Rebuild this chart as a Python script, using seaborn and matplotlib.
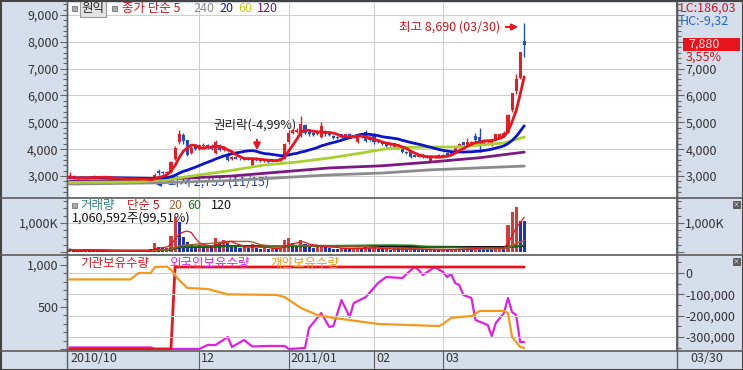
import pandas as pd
import matplotlib
matplotlib.use("Agg")
import matplotlib.pyplot as plt
import seaborn as sns
from matplotlib.patches import Rectangle
from matplotlib.lines import Line2D
from matplotlib.ticker import FixedLocator, MultipleLocator, FuncFormatter

# daily candles, trading day 0 = 2010/10/18 ... 112 = 2011/03/30
opens = [2900, 2990, 2930, 2900, 2950, 2920, 2960, 2980, 2930, 2960,
         2930, 2900, 2880, 2920, 2890, 2870, 2910, 2880, 2860, 2890,
         2850, 2820, 3200, 3150, 3100, 3150, 3650, 4250, 4540, 4330,
         3850, 4100, 4000, 4100, 4150, 4100, 3850, 4150, 3950, 3800,
         3620, 3700, 3650, 3620, 3680, 3400, 3650, 3600, 3560, 3580,
         3530, 3600, 3580, 3650, 4250, 4600, 4650, 4500, 4900, 4650,
         4600, 4550, 4450, 4650, 4650, 4500, 4450, 4550, 4450, 4580,
         4450, 4250, 4550, 4650, 4450, 4550, 4350, 4300, 4250, 4150,
         4220, 4050, 4100, 3900, 3950, 3800, 3720, 3800, 3750, 3550,
         3750, 3800, 3750, 3850, 3780, 3920, 4050, 4250, 4150, 4200,
         4500, 4450, 4200, 4250, 4150, 4350, 4400, 4500, 4650, 5450,
         6150, 6650, 8020]
closes = [2960, 2920, 2900, 2950, 2920, 2960, 2990, 2930, 2960, 2930,
          2900, 2880, 2920, 2890, 2870, 2910, 2880, 2860, 2900, 2850,
          2800, 3050, 3120, 3100, 3150, 3520, 4050, 4560, 4300, 3800,
          4050, 4000, 4150, 4150, 4050, 4000, 4250, 3950, 4050, 3600,
          3700, 3650, 3620, 3680, 3600, 3680, 3600, 3550, 3600, 3520,
          3620, 3580, 3660, 4200, 4600, 4700, 4700, 4950, 4600, 4550,
          4530, 4620, 4880, 4550, 4520, 4420, 4400, 4450, 4550, 4450,
          4500, 4500, 4450, 4320, 4350, 4250, 4250, 4180, 4100, 4220,
          4050, 4150, 3880, 3850, 3700, 3720, 3800, 3700, 3680, 3700,
          3680, 3720, 3800, 3780, 3900, 4050, 4200, 4150, 4250, 4260,
          4350, 4300, 4350, 4300, 4300, 4550, 4550, 4620, 5290, 6080,
          6620, 7610, 7880]
highs = [3150, 3020, 2950, 2980, 2970, 2990, 3050, 2990, 2980, 2970,
         2940, 2920, 2940, 2930, 2910, 2930, 2920, 2900, 2920, 2900,
         2860, 3100, 3250, 3200, 3180, 3560, 4100, 4710, 4620, 4350,
         4120, 4150, 4200, 4220, 4180, 4200, 4350, 4180, 4100, 3900,
         3730, 3720, 3680, 3700, 3700, 3700, 3700, 3630, 3630, 3620,
         3650, 3640, 3690, 4230, 4700, 4750, 4780, 5230, 4950, 4700,
         4640, 4660, 5000, 4700, 4680, 4530, 4480, 4580, 4580, 4600,
         4540, 4530, 4580, 4700, 4480, 4600, 4380, 4320, 4280, 4250,
         4240, 4200, 4120, 3930, 3970, 3820, 3830, 3820, 3770, 3720,
         3770, 3820, 3830, 3870, 3930, 4080, 4230, 4270, 4400, 4300,
         4600, 4800, 4380, 4330, 4320, 4580, 4620, 4660, 5300, 6080,
         6800, 7610, 8690]
lows = [2880, 2890, 2880, 2890, 2900, 2910, 2940, 2910, 2920, 2910,
        2880, 2860, 2870, 2870, 2850, 2860, 2860, 2840, 2850, 2820,
        2755, 2800, 3050, 3060, 3080, 3120, 3600, 4200, 4200, 3750,
        3820, 3950, 3980, 4080, 4000, 3950, 3830, 3920, 3930, 3550,
        3600, 3620, 3590, 3600, 3580, 3350, 3560, 3520, 3540, 3480,
        3510, 3550, 3560, 3620, 4200, 4550, 4620, 4450, 4550, 4500,
        4500, 4520, 4420, 4500, 4480, 4380, 4370, 4420, 4430, 4420,
        4430, 4230, 4420, 4280, 4320, 4200, 4220, 4150, 4080, 4120,
        4020, 4000, 3860, 3820, 3680, 3700, 3700, 3680, 3660, 3520,
        3660, 3700, 3730, 3760, 3770, 3900, 4030, 4120, 4130, 4180,
        4250, 3900, 4180, 4230, 4130, 4330, 4380, 4480, 4620, 5400,
        6050, 6600, 7435]
volume_k = [80, 40, 30, 60, 90, 50, 40, 30, 45, 35,
            30, 25, 40, 30, 35, 45, 30, 40, 55, 45,
            90, 320, 180, 130, 150, 540, 1210, 1030, 500, 330,
            290, 220, 250, 180, 200, 160, 480, 360, 420, 300,
            200, 170, 150, 180, 140, 260, 150, 120, 140, 110,
            130, 100, 150, 400, 480, 300, 220, 420, 260, 180,
            150, 170, 250, 160, 140, 120, 110, 130, 120, 100,
            110, 150, 120, 160, 130, 140, 100, 90, 110, 80,
            100, 90, 110, 80, 120, 90, 80, 70, 60, 90,
            70, 60, 80, 70, 90, 100, 120, 80, 110, 90,
            210, 190, 150, 120, 100, 160, 180, 140, 930, 1390,
            1540, 1070, 1061]

# long moving averages
ma60_day = [0, 16, 24, 32, 40, 48, 56, 64, 72, 77, 81, 89, 95, 101, 107, 112]
ma60_val = [2760, 2780, 2860, 3040, 3210, 3410, 3520, 3670, 3860, 3990, 4060, 4080, 4080, 4150, 4230, 4450]
ma120_day = [0, 20, 40, 64, 77, 89, 101, 112]
ma120_val = [2800, 2860, 3000, 3300, 3380, 3520, 3680, 3890]
ma240_day = [0, 20, 40, 64, 77, 89, 112]
ma240_val = [2700, 2740, 2830, 3040, 3110, 3230, 3370]

# holdings panel
inst_day = [0, 25, 26, 112]
inst_val = [0, 0, 976, 976]
foreign_day = [0, 20, 21, 32, 34, 36, 39, 40, 43, 45, 49, 53, 54, 58, 59, 62, 64, 65, 67, 69,
               70, 73, 76, 78, 82, 83, 85, 86, 87, 90, 92, 93, 94, 95, 96, 97, 99, 100, 103, 104,
               105, 107, 108, 109, 110, 111, 112]
foreign_val = [18, 18, 0, 0, 48, 48, 143, 24, 107, 30, 36, 36, 0, 12, 250, 428, 262, 274, 583, 381,
               547, 619, 785, 857, 845, 893, 976, 940, 881, 976, 916, 857, 893, 785, 762, 643, 607, 345, 286, 155,
               309, 428, 607, 440, 405, 83, 83]
indiv_day = [0, 15, 16, 17, 20, 21, 24, 25, 27, 29, 34, 39, 51, 53, 57, 61, 65, 69, 76, 91,
             92, 94, 96, 99, 101, 107, 108, 109, 111, 112]
indiv_val_k = [-30, -30, -15, 0, 0, 28, 30, 15, -33, -70, -75, -100, -103, -113, -164, -197, -211, -221, -239, -249,
               -239, -211, -207, -202, -178, -178, -188, -300, -347, -352]

month_days = [32, 54, 75, 92]
month_labels = ['12', '2011/01', '02', '03']
price_ticks = [3000, 4000, 5000, 6000, 7000, 8000, 9000]

W, H = 743, 370
BG = '#d5dfeb'
LINE = '#5c5c5c'
GRID = '#cfcfcf'
UP = '#e41e26'
DOWN = '#1f4fc8'
X0, DX = 69.5, 4.06
XLIM = ((67 - X0) / DX, (677 - X0) / DX)

sns.set_theme(style="white")
plt.rcParams['font.family'] = ['Noto Sans CJK KR', 'DejaVu Sans']
plt.rcParams['axes.unicode_minus'] = False


def box(x0, y0, x1, y1):
    return [x0 / W, 1 - y1 / H, (x1 - x0) / W, (y1 - y0) / H]


def px(x):
    return X0 + DX * x


def ftext(ax, x, y, s, color, size=9, **kw):
    kw.setdefault('zorder', 1)
    return ax.text(x / W, 1 - y / H, s, color=color, fontsize=size, ha=kw.pop('ha', 'left'),
                   va='center', transform=fig.transFigure, **kw)


def style_panel(ax, ylim):
    ax.set_facecolor('white')
    ax.set_xlim(*XLIM)
    ax.set_ylim(*ylim)
    ax.set_xticks([])
    ax.set_xlabel('')
    ax.set_ylabel('')
    for s in ['top', 'bottom']:
        ax.spines[s].set_visible(False)
    for s in ['left', 'right']:
        ax.spines[s].set_color(LINE)
        ax.spines[s].set_linewidth(1)
    ax.tick_params(axis='y', which='both', direction='out', left=True, colors='#666666',
                   labelcolor='#333333', labelsize=9, pad=1, width=0.8)
    ax.tick_params(axis='y', which='major', length=5)
    ax.tick_params(axis='y', which='minor', length=3)
    for d in month_days:
        ax.axvline(d, color=GRID, lw=0.8, zorder=0)


def right_twin(ax):
    r = ax.twinx()
    r.set_ylim(ax.get_ylim())
    r.set_xlim(*XLIM)
    for s in ['top', 'bottom', 'left']:
        r.spines[s].set_visible(False)
    r.spines['right'].set_color(LINE)
    r.tick_params(axis='y', which='both', direction='out', right=True, left=False, colors='#666666',
                  labelcolor='#333333', labelsize=9, pad=1, width=0.8)
    r.tick_params(axis='y', which='major', length=5)
    r.tick_params(axis='y', which='minor', length=3)
    r.set_ylabel('')
    return r


fig = plt.figure(figsize=(W / 100, H / 100), dpi=100, facecolor=BG)

df = pd.DataFrame({'open': opens, 'close': closes, 'high': highs, 'low': lows, 'vol': volume_k})
df['day'] = range(len(df))
df['ma5'] = df['close'].rolling(5, min_periods=1).mean()
df['ma20'] = df['close'].rolling(20, min_periods=1).mean()
up = df['close'] >= df['open']
candle_colors = [UP if u else DOWN for u in up]
vol_up = df['vol'].diff().fillna(1) >= 0
vol_colors = ['#d23c3c' if u else '#2233bb' for u in vol_up]
for n, c in [(5, 'v5'), (20, 'v20'), (60, 'v60'), (120, 'v120')]:
    df[c] = df['vol'].rolling(n, min_periods=1).mean()

# ---- price panel ----
ax1 = fig.add_axes(box(67, 3, 677, 197))
style_panel(ax1, (2217, 9447))
ax1.yaxis.set_major_locator(FixedLocator(price_ticks))
ax1.yaxis.set_minor_locator(MultipleLocator(200))
ax1.yaxis.set_major_formatter(FuncFormatter(lambda v, p: f'{v:,.0f}'))
for v in price_ticks:
    ax1.axhline(v, color=GRID, lw=0.8, zorder=0)

ax1.vlines(df['day'], df['low'], df['high'], colors=candle_colors, lw=1, zorder=3)
body_h = (df['close'] - df['open']).abs().clip(lower=15)
ax1.bar(df['day'], body_h, bottom=df[['open', 'close']].min(axis=1), width=0.75,
        color=candle_colors, linewidth=0, zorder=3)

sns.lineplot(x=ma240_day, y=ma240_val, ax=ax1, color='#8c8c8c', lw=2, zorder=4)
sns.lineplot(x=ma120_day, y=ma120_val, ax=ax1, color='#7d1a82', lw=2, zorder=4)
sns.lineplot(x=ma60_day, y=ma60_val, ax=ax1, color='#a8d030', lw=2, zorder=4)
sns.lineplot(data=df, x='day', y='ma20', ax=ax1, color='#0a14c8', lw=2, zorder=5)
sns.lineplot(data=df, x='day', y='ma5', ax=ax1, color='#e8141e', lw=2, zorder=5)
ax1.set_xlabel('')
ax1.set_ylabel('')

ax1r = right_twin(ax1)
ax1r.yaxis.set_major_locator(FixedLocator(price_ticks))
ax1r.yaxis.set_minor_locator(MultipleLocator(200))
ax1r.yaxis.set_major_formatter(FuncFormatter(lambda v, p: f'{v:,.0f}' if v <= 7000 else ''))

# legend line of price panel
fig.add_artist(Rectangle((72 / W, 1 - 11 / H), 5 / W, 5 / H, transform=fig.transFigure,
                         facecolor='#a8a8a8', edgecolor='#777777', lw=0.6))
ftext(ax1, 81, 8.5, '원익', '#222222',
      bbox=dict(boxstyle='square,pad=0.12', facecolor='#e4e4e4', edgecolor='#9a9a9a', lw=0.8))
fig.add_artist(Rectangle((112 / W, 1 - 11 / H), 5 / W, 5 / H, transform=fig.transFigure,
                         facecolor='#a8a8a8', edgecolor='#777777', lw=0.6))
ftext(ax1, 122, 8.5, '종가 단순 5', '#d0141e')
ftext(ax1, 193, 8.5, '240', '#8a8a8a')
ftext(ax1, 219, 8.5, '20', '#1a1aa0')
ftext(ax1, 238, 8.5, '60', '#c8c814')
ftext(ax1, 257, 8.5, '120', '#6a1a78')

# annotations
ftext(ax1, 500, 27, '최고 8,690 (03/30)', '#d0141e', ha='right')
ax1.annotate('', xy=(521, H - 27), xytext=(503, H - 27), xycoords='figure pixels',
             arrowprops=dict(arrowstyle='-|>', color='#e8141e', lw=1.5, mutation_scale=9))
ftext(ax1, 168, 182, '최저 2,755 (11/15)', '#1a3cc8')
ax1.annotate('', xy=(151, H - 183), xytext=(167, H - 183), xycoords='figure pixels',
             arrowprops=dict(arrowstyle='-|>', color='#1a3cc8', lw=1.5, mutation_scale=9))
ftext(ax1, 213, 125, '권리락(-4,99%)', '#222222')
ax1.annotate('', xy=(257, H - 153), xytext=(257, H - 137), xycoords='figure pixels',
             arrowprops=dict(arrowstyle='-|>', color='#e8141e', lw=1.5, mutation_scale=10))

# ---- volume panel ----
ax2 = fig.add_axes(box(67, 198, 677, 254))
style_panel(ax2, (-69, 1862))
ax2.yaxis.set_major_locator(FixedLocator([0, 1000]))
ax2.yaxis.set_minor_locator(MultipleLocator(250))
ax2.yaxis.set_major_formatter(FuncFormatter(lambda v, p: '1,000K' if v == 1000 else ''))
ax2.axhline(1000, color=GRID, lw=0.8, zorder=0)
ax2.bar(df['day'], df['vol'], width=0.75, color=vol_colors, linewidth=0, zorder=3)
sns.lineplot(data=df, x='day', y='v120', ax=ax2, color='#111111', lw=1.6, zorder=4)
sns.lineplot(data=df, x='day', y='v60', ax=ax2, color='#1a7a1a', lw=1.2, zorder=4)
sns.lineplot(data=df, x='day', y='v20', ax=ax2, color='#a8602a', lw=1, zorder=4)
sns.lineplot(data=df, x='day', y='v5', ax=ax2, color='#e8141e', lw=0.9, zorder=4)
ax2.set_xlabel('')
ax2.set_ylabel('')
ax2r = right_twin(ax2)
ax2r.yaxis.set_major_locator(FixedLocator([0, 1000]))
ax2r.yaxis.set_minor_locator(MultipleLocator(250))
ax2r.yaxis.set_major_formatter(FuncFormatter(lambda v, p: '1,000K' if v == 1000 else ''))

fig.add_artist(Rectangle((72 / W, 1 - 208 / H), 5 / W, 5 / H, transform=fig.transFigure,
                         facecolor='#a8a8a8', edgecolor='#777777', lw=0.6))
ftext(ax2, 80, 205.5, '거래량', '#2e8484')
ftext(ax2, 127, 205.5, '단순 5', '#d0141e')
ftext(ax2, 168, 205.5, '20', '#a8602a')
ftext(ax2, 187, 205.5, '60', '#1a7a1a')
ftext(ax2, 211, 205.5, '120', '#111111')
ftext(ax2, 72, 218, '1,060,592주(99,51%)', '#111111')

# ---- holdings panel ----
ax3 = fig.add_axes(box(67, 255, 677, 351))
style_panel(ax3, (-24, 1119))
ax3.yaxis.set_major_locator(FixedLocator([0, 500, 1000]))
ax3.yaxis.set_minor_locator(MultipleLocator(100))
ax3.yaxis.set_major_formatter(FuncFormatter(lambda v, p: f'{v:,.0f}' if v > 0 else ''))
sns.lineplot(x=foreign_day, y=foreign_val, ax=ax3, color='#e020e0', lw=1.6, zorder=3)
sns.lineplot(x=inst_day, y=inst_val, ax=ax3, color='#e8141e', lw=2, zorder=4)
ax3.set_xlabel('')
ax3.set_ylabel('')

ax3r = right_twin(ax3)
ax3r.set_ylim(-366, 84.5)
ax3r.yaxis.set_major_locator(FixedLocator([-300, -200, -100, 0]))
ax3r.yaxis.set_minor_locator(MultipleLocator(50))
ax3r.yaxis.set_major_formatter(FuncFormatter(lambda v, p: f'{v * 1000:,.0f}'))
for v in [-300, -200, -100, 0]:
    ax3r.axhline(v, color=GRID, lw=0.8, zorder=0)
sns.lineplot(x=indiv_day, y=indiv_val_k, ax=ax3r, color='#f39a1e', lw=1.6, zorder=3)
ax3r.set_xlabel('')
ax3r.set_ylabel('')

for xx, lbl, col in [(72, '기관보유수량', '#e8141e'), (161, '외국인보유수량', '#e020e0'),
                     (262, '개인보유수량', '#f39a1e')]:
    fig.add_artist(Rectangle((xx / W, 1 - 266 / H), 5 / W, 5 / H, transform=fig.transFigure,
                             facecolor='#a8a8a8', edgecolor='#777777', lw=0.6, zorder=0))
    ftext(ax3r, xx + 8, 263, lbl, col, zorder=0)

# ---- right side texts ----
ftext(ax1r, 680, 8, 'LC:186,03', '#d0141e', zorder=5)
ftext(ax1r, 680, 21, 'HC:-9,32', '#2464c8', zorder=5)
fig.add_artist(Rectangle((683 / W, 1 - 51 / H), 57 / W, 13 / H, transform=fig.transFigure,
                         facecolor='#e8141e', edgecolor='none'))
fig.text(688 / W, 1 - 44.5 / H, '7,880', color='#ffe8e8', fontsize=9, va='center')
fig.text(686 / W, 1 - 57 / H, '3,55%', color='#d0141e', fontsize=9, va='center')

for yy in [201, 258]:
    fig.add_artist(Rectangle((733 / W, 1 - (yy + 7) / H), 7 / W, 7 / H, transform=fig.transFigure,
                             facecolor='#5a5a5a', edgecolor='#444444', lw=0.5))
    fig.text(736.5 / W, 1 - (yy + 3.5) / H, '×', color='white', fontsize=5, ha='center', va='center')

# ---- frame lines and date bar ----
for yy in [197.5, 254.5, 351]:
    fig.add_artist(Line2D([0, 1], [1 - yy / H] * 2, transform=fig.transFigure, color=LINE, lw=1.2))
for xx in [67, 677]:
    fig.add_artist(Line2D([xx / W] * 2, [0, 1 - 2 / H], transform=fig.transFigure, color=LINE, lw=1))
for d in month_days:
    fig.add_artist(Line2D([px(d) / W] * 2, [1 - 368 / H, 1 - 351 / H], transform=fig.transFigure,
                          color=LINE, lw=0.8))
fig.text(70 / W, 1 - 359 / H, '2010/10', color='#333333', fontsize=9, va='center')
for d, lbl in zip(month_days, month_labels):
    fig.text((px(d) + 2) / W, 1 - 359 / H, lbl, color='#333333', fontsize=9, va='center')
fig.text(690 / W, 1 - 359 / H, '03/30', color='#333333', fontsize=9, va='center')
fig.add_artist(Rectangle((0.5 / W, 0.5 / H), (W - 1) / W, (H - 1) / H, transform=fig.transFigure,
                         facecolor='none', edgecolor='#444444', lw=1.5))

fig.savefig('out.png', dpi=100, facecolor=BG)
